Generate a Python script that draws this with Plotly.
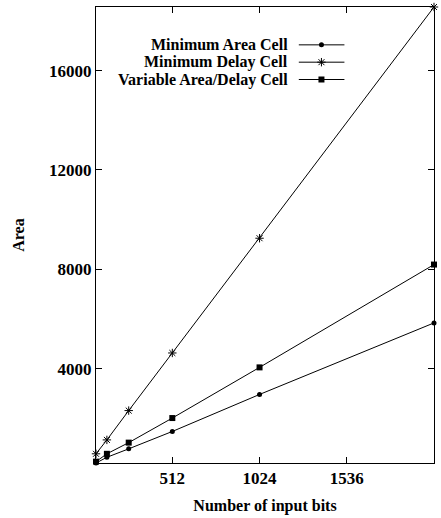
import plotly.graph_objects as go

bits = [64, 128, 256, 512, 1024, 2048]
min_area = [200, 430, 770, 1470, 2960, 5840]
min_delay = [570, 1130, 2310, 4630, 9250, 18560]
var_area_delay = [255, 570, 1020, 2010, 4050, 8190]

names = ["Minimum Area Cell", "Minimum Delay Cell", "Variable Area/Delay Cell"]
xticks = [512, 1024, 1536]
yticks = [4000, 8000, 12000, 16000]

FONT = "Liberation Serif"
markers = [
    dict(symbol="circle", size=5, color="black"),
    dict(symbol="asterisk-open", size=7, color="black", line=dict(width=1, color="black")),
    dict(symbol="square", size=6, color="black"),
]
series = [min_area, min_delay, var_area_delay]

fig = go.Figure()
for nm, ys, mk in zip(names, series, markers):
    fig.add_trace(go.Scatter(x=bits, y=ys, mode="lines+markers", name=nm,
                             line=dict(color="black", width=1), marker=mk,
                             showlegend=False, cliponaxis=False))

# gnuplot-style key (sample on the right of the text)
key_rows = [0.917, 0.879, 0.841]
for nm, mk, ky in zip(names, markers, key_rows):
    fig.add_trace(go.Scatter(x=[0.600, 0.667, 0.735], y=[ky, ky, ky], xaxis="x2", yaxis="y2",
                             mode="lines", line=dict(color="black", width=1),
                             showlegend=False, hoverinfo="skip"))
    fig.add_trace(go.Scatter(x=[0.667], y=[ky], xaxis="x2", yaxis="y2",
                             mode="markers", marker=mk, showlegend=False, hoverinfo="skip"))
    fig.add_annotation(x=0.573, y=ky, xref="x2", yref="y2", text="<b>%s</b>" % nm,
                       showarrow=False, xanchor="right", yanchor="middle",
                       font=dict(family=FONT, size=16, color="black"))

axis_common = dict(showgrid=False, zeroline=False, showline=True, linecolor="black",
                   linewidth=1, mirror="ticks", ticks="inside", ticklen=6,
                   tickcolor="black", tickwidth=1,
                   tickfont=dict(family=FONT, size=17, color="black"))

fig.update_layout(
    width=441, height=518,
    margin=dict(l=96, r=6, t=6, b=53),
    plot_bgcolor="white", paper_bgcolor="white",
    xaxis=dict(range=[64, 2048], tickvals=xticks, ticktext=["<b>%d</b>" % v for v in xticks],
               title=dict(text="<b>Number of input bits</b>", standoff=12,
                          font=dict(family=FONT, size=16, color="black")),
               **axis_common),
    yaxis=dict(range=[200, 18560], tickvals=yticks, ticktext=["<b>%d</b>" % v for v in yticks],
               title=dict(text="<b>Area</b>", standoff=20,
                          font=dict(family=FONT, size=16, color="black")),
               **axis_common),
    xaxis2=dict(overlaying="x", range=[0, 1], visible=False),
    yaxis2=dict(overlaying="y", range=[0, 1], visible=False),
)

fig.write_html("out.html", config={"displayModeBar": False},
               post_script="document.body.style.margin='0';document.body.style.overflow='hidden';")
